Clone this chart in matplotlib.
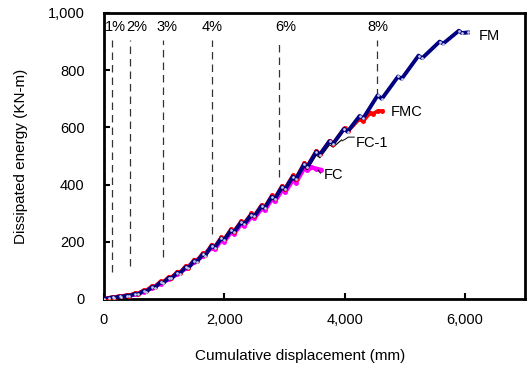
import matplotlib
matplotlib.use("Agg")
import matplotlib.pyplot as plt
from matplotlib.ticker import FuncFormatter

plt.rcParams["font.family"] = ["Liberation Sans", "DejaVu Sans"]

# FM specimen (peak / dip per loading cycle)
fm_x = [0, 80, 150, 170, 260, 290, 380, 420, 520, 560, 660, 700, 800, 840,
        940, 980, 1080, 1120, 1220, 1260, 1360, 1400, 1500, 1540, 1640, 1680,
        1790, 1840, 1950, 2000, 2110, 2160, 2280, 2330, 2450, 2500, 2620, 2670,
        2790, 2840, 2960, 3010, 3140, 3190, 3330, 3380, 3530, 3590, 3750, 3810,
        3990, 4050, 4250, 4310, 4550, 4620, 4890, 4950, 5230, 5290, 5580, 5640,
        5900, 5950, 6050]
fm_y = [0, 3, 6, 4, 9, 8, 12, 11, 18, 16, 28, 26, 42, 40,
        58, 56, 74, 72, 92, 89, 112, 108, 134, 130, 156, 152,
        186, 180, 212, 207, 240, 234, 268, 262, 295, 289, 325, 318,
        358, 350, 392, 384, 428, 419, 472, 462, 515, 505, 552, 543,
        595, 585, 640, 632, 712, 700, 778, 770, 851, 842, 900, 893,
        938, 930, 932]

# FMC specimen
fmc_x = [0, 80, 150, 170, 260, 290, 380, 420, 520, 560, 660, 700, 800, 840,
         940, 980, 1080, 1120, 1220, 1260, 1360, 1400, 1500, 1540, 1640, 1680,
         1790, 1840, 1950, 2000, 2110, 2160, 2280, 2330, 2450, 2500, 2620, 2670,
         2790, 2840, 2960, 3010, 3140, 3190, 3330, 3380, 3530, 3590, 3750, 3810,
         4000, 4060, 4250, 4310, 4430, 4470, 4560, 4630]
fmc_y = [0, 4, 7, 5, 11, 9, 14, 12, 21, 18, 31, 28, 46, 42,
         62, 58, 78, 74, 96, 91, 116, 110, 138, 132, 160, 154,
         190, 182, 216, 209, 244, 236, 272, 264, 299, 291, 329, 320,
         362, 352, 396, 386, 432, 421, 476, 464, 518, 506, 553, 543,
         598, 588, 630, 622, 652, 648, 658, 657]

# FC-1 specimen
fc1_x = [0, 150, 260, 380, 520, 660, 800, 940, 1080, 1220, 1360, 1500, 1640,
         1790, 1840, 1950, 2000, 2110, 2160, 2280, 2330, 2450, 2500, 2620, 2670,
         2790, 2840, 2960, 3010, 3140, 3190, 3330, 3380, 3530, 3590, 3750, 3810,
         3950]
fc1_y = [0, 5, 8, 11, 17, 26, 39, 55, 71, 89, 108, 130, 152,
         181, 176, 207, 202, 235, 229, 263, 257, 290, 284, 319, 312,
         351, 343, 384, 376, 419, 410, 461, 452, 503, 494, 539, 531,
         556]

# FC specimen
fc_x = [0, 150, 260, 380, 520, 660, 800, 940, 1080, 1220, 1360, 1500, 1640,
        1790, 1840, 1950, 2000, 2110, 2160, 2280, 2330, 2450, 2500, 2620, 2670,
        2790, 2840, 2960, 3010, 3140, 3190, 3330, 3380, 3450, 3520, 3600]
fc_y = [0, 5, 8, 11, 16, 26, 39, 54, 70, 88, 107, 129, 150,
        180, 174, 206, 201, 234, 228, 262, 256, 288, 282, 317, 310,
        349, 341, 381, 373, 416, 407, 458, 450, 460, 456, 452]

# drift ratio markers
drift_labels = ["1%", "2%", "3%", "4%", "6%", "8%"]
drift_x = [138, 433, 983, 1800, 2917, 4544]
drift_bottom = [95, 116, 147, 228, 428, 709]
drift_label_x = [183, 550, 1050, 1800, 3017, 4550]

fig = plt.figure(figsize=(5.30, 3.67), dpi=100)
ax = fig.add_axes([104 / 530, 68 / 367, 421 / 530, 286 / 367])

ax.plot(fc_x, fc_y, color="#ff00ff", lw=3.2, marker="o", ms=2.5, zorder=2)
ax.plot(fc1_x, fc1_y, color="black", lw=0.8, zorder=3)
ax.plot(fmc_x, fmc_y, color="red", lw=2.6, marker="o", ms=2.5, zorder=4)
ax.plot(fm_x, fm_y, color="#000080", lw=2.8, marker="o", ms=2,
        mfc="#c8c8e8", mec="none", zorder=5)

for xv, yb in zip(drift_x, drift_bottom):
    ax.plot([xv, xv], [yb, 905], color="#333333", lw=0.9, ls=(0, (6, 4)),
            zorder=1)
for lab, xv in zip(drift_labels, drift_label_x):
    ax.text(xv, 951, lab, ha="center", va="center", fontsize=10.5)

# curve labels
ax.text(6230, 919, "FM", va="center", fontsize=10.5)
ax.text(4770, 653, "FMC", va="center", fontsize=10.5)
ax.text(4180, 547, "FC-1", va="center", fontsize=10.5)
ax.text(3650, 435, "FC", va="center", fontsize=10.5)
ax.plot([3960, 4020, 4060, 4160], [553, 560, 566, 566], color="black", lw=0.7)
ax.plot([3560, 3600], [450, 440], color="black", lw=0.7)

ax.set_xlim(0, 7000)
ax.set_ylim(0, 1000)
ax.set_xticks([0, 2000, 4000, 6000])
ax.set_yticks([0, 200, 400, 600, 800, 1000])
fmt = FuncFormatter(lambda v, p: f"{int(v):,}")
ax.xaxis.set_major_formatter(fmt)
ax.yaxis.set_major_formatter(fmt)
ax.tick_params(direction="in", length=4, width=1.5, labelsize=10.5)
ax.tick_params(axis="y", pad=14)
ax.tick_params(axis="x", pad=10)
for s in ax.spines.values():
    s.set_linewidth(2)

ax.set_xlabel("Cumulative displacement (mm)", fontsize=11)
ax.set_ylabel("Dissipated energy (KN-m)", fontsize=11)
ax.xaxis.set_label_coords(0.466, -0.175)
ax.yaxis.set_label_coords(-0.18, 0.5)

fig.savefig("out.png", dpi=100)
